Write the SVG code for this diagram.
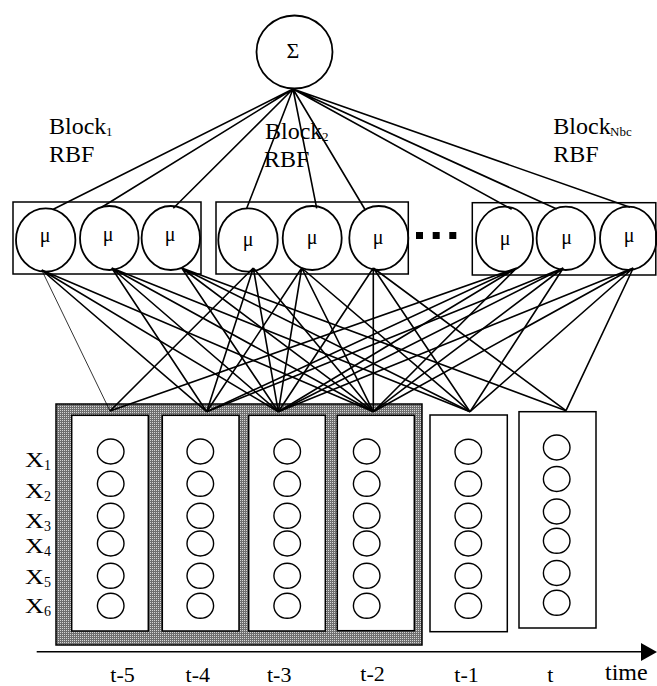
<svg xmlns="http://www.w3.org/2000/svg" width="657" height="686" viewBox="0 0 657 686">
  <defs>
    <pattern id="dots" width="2" height="2" patternUnits="userSpaceOnUse">
      <rect width="2" height="2" fill="#6f6f6f"/>
      <rect width="1" height="1" fill="#d6d6d6"/>
    </pattern>
  </defs>
  <style>
    text { font-family: "Liberation Serif", "Times New Roman", serif; fill: #000; }
    .box { fill: #fff; stroke: #000; stroke-width: 1.5; }
    .neuron { fill: none; stroke: #000; stroke-width: 1.8; }
    .inp { fill: none; stroke: #000; stroke-width: 1.4; }
    .wire { fill: none; stroke: #000; stroke-width: 1.6; }
    .thin { fill: none; stroke: #000; stroke-width: 0.8; }
    .mu { font-size: 20px; text-anchor: middle; }
    .lbl { font-size: 24px; }
    .sub { font-size: 13px; }
    .tl { font-size: 22px; text-anchor: middle; }
  </style>

  <!-- summation node -->
  <g id="sum">
    <ellipse cx="294.5" cy="52" rx="38" ry="36.5" class="neuron"/>
    <text x="293" y="58" font-size="22" text-anchor="middle">Σ</text>
  </g>

  <!-- input window: shaded group of past steps -->
  <g id="window">
    <rect x="56" y="404" width="366" height="241" fill="url(#dots)" stroke="#000" stroke-width="1.5"/>
  </g>

  <!-- connectors -->
  <g id="connectors">
    <!-- sum to RBF units -->
    <path class="wire" d="M293 89 L53.3 209.3 M293 89 L101.7 207.3 M293 89 L173.3 208.3 M293 89 L246.7 208.3 M293 89 L316.7 208.3 M293 89 L365 209.5 M293 89 L511.7 209.3 M293 89 L556.7 209 M293 89 L630 207.3"/>
    <!-- RBF units to time steps -->
    <path class="thin" d="M41.7 270 L110 411"/>
    <path class="wire" d="M41.7 270 L206.7 411.7 M41.7 270 L278.3 411.7 M41.7 270 L373.3 411.7"/>
    <path class="wire" d="M111.7 268 L206.7 411.7 M111.7 268 L278.3 411.7 M111.7 268 L373.3 411.7 M111.7 268 L470 411.7"/>
    <path class="wire" d="M181.7 268 L278.3 411.7 M181.7 268 L373.3 411.7 M181.7 268 L470 411.7 M181.7 268 L566 410.7"/>
    <path class="wire" d="M253.3 268 L110 411 M253.3 268 L206.7 411.7 M253.3 268 L278.3 411.7 M253.3 268 L373.3 411.7"/>
    <path class="wire" d="M301.7 268 L206.7 411.7 M301.7 268 L278.3 411.7 M301.7 268 L373.3 411.7 M301.7 268 L470 411.7"/>
    <path class="wire" d="M373.3 268 L278.3 411.7 M373.3 268 L373.3 411.7 M373.3 268 L470 411.7 M373.3 268 L566 410.7"/>
    <path class="wire" d="M516.7 268 L110 411 M516.7 268 L206.7 411.7 M516.7 268 L278.3 411.7 M516.7 268 L373.3 411.7"/>
    <path class="wire" d="M563.3 268 L206.7 411.7 M563.3 268 L278.3 411.7 M563.3 268 L373.3 411.7 M563.3 268 L470 411.7"/>
    <path class="wire" d="M633.3 268 L278.3 411.7 M633.3 268 L373.3 411.7 M633.3 268 L470 411.7 M633.3 268 L566 410.7"/>
  </g>

  <!-- RBF block 1 -->
  <g id="block1">
    <text x="49" y="134" class="lbl">Block</text>
    <text x="106" y="135.5" class="sub">1</text>
    <text x="49" y="161.7" class="lbl">RBF</text>
    <rect x="13" y="202" width="188" height="72" fill="none" stroke="#000" stroke-width="1.5"/>
    <ellipse cx="45.7" cy="240" rx="29.7" ry="31.7" class="neuron"/>
    <ellipse cx="109.3" cy="238" rx="29.3" ry="32" class="neuron"/>
    <ellipse cx="170.8" cy="238" rx="29.2" ry="32" class="neuron"/>
    <text x="45" y="242" class="mu">μ</text>
    <text x="108" y="240.5" class="mu">μ</text>
    <text x="170" y="240.5" class="mu">μ</text>
  </g>

  <!-- RBF block 2 -->
  <g id="block2">
    <text x="265" y="139.3" class="lbl">Block</text>
    <text x="322" y="141" class="sub">2</text>
    <text x="264" y="166.7" class="lbl">RBF</text>
    <rect x="216" y="202" width="192.3" height="72" fill="none" stroke="#000" stroke-width="1.5"/>
    <ellipse cx="248" cy="240" rx="29.7" ry="31.7" class="neuron"/>
    <ellipse cx="312.2" cy="238" rx="29.5" ry="32" class="neuron"/>
    <ellipse cx="378.8" cy="238" rx="29.5" ry="32" class="neuron"/>
    <text x="248" y="245.5" class="mu">μ</text>
    <text x="312" y="244" class="mu">μ</text>
    <text x="378" y="244" class="mu">μ</text>
  </g>

  <!-- ellipsis between blocks -->
  <g id="ellipsis">
    <rect x="416" y="232" width="7" height="7"/>
    <rect x="432.7" y="232" width="7" height="7"/>
    <rect x="449.3" y="232" width="7" height="7"/>
  </g>

  <!-- RBF block Nbc -->
  <g id="blockN">
    <text x="553.3" y="134.3" class="lbl">Block</text>
    <text x="610" y="135.5" class="sub">Nbc</text>
    <text x="553.3" y="161.7" class="lbl">RBF</text>
    <rect x="472.3" y="202.7" width="183.5" height="72.3" fill="none" stroke="#000" stroke-width="1.5"/>
    <ellipse cx="504.5" cy="239.2" rx="28.5" ry="32.5" class="neuron"/>
    <ellipse cx="565.8" cy="238.3" rx="29.2" ry="31.7" class="neuron"/>
    <ellipse cx="628.3" cy="238.3" rx="28.3" ry="31.7" class="neuron"/>
    <text x="505" y="245" class="mu">μ</text>
    <text x="566.5" y="244" class="mu">μ</text>
    <text x="629" y="242" class="mu">μ</text>
  </g>

  <!-- variable labels -->
  <g id="vars">
    <text x="25" y="466.7" font-size="20" textLength="19" lengthAdjust="spacingAndGlyphs">X</text>
    <text x="44" y="469.5" font-size="14">1</text>
    <text x="25" y="498.3" font-size="20" textLength="19" lengthAdjust="spacingAndGlyphs">X</text>
    <text x="44" y="501" font-size="14">2</text>
    <text x="25" y="527.7" font-size="20" textLength="19" lengthAdjust="spacingAndGlyphs">X</text>
    <text x="44" y="530.5" font-size="14">3</text>
    <text x="25" y="553.3" font-size="20" textLength="19" lengthAdjust="spacingAndGlyphs">X</text>
    <text x="44" y="556" font-size="14">4</text>
    <text x="25" y="584.3" font-size="20" textLength="19" lengthAdjust="spacingAndGlyphs">X</text>
    <text x="44" y="587" font-size="14">5</text>
    <text x="25" y="613.3" font-size="20" textLength="19" lengthAdjust="spacingAndGlyphs">X</text>
    <text x="44" y="616" font-size="14">6</text>
  </g>

  <!-- input columns, one per time step -->
  <g id="col-t5">
    <rect x="71.7" y="415.3" width="76.6" height="215.7" class="box"/>
    <ellipse cx="110.7" cy="451.5" rx="13.3" ry="12.5" class="inp"/>
    <ellipse cx="110.7" cy="483.8" rx="13.3" ry="12.5" class="inp"/>
    <ellipse cx="110.7" cy="515.8" rx="13.3" ry="12.5" class="inp"/>
    <ellipse cx="110.7" cy="543.5" rx="13.3" ry="12.5" class="inp"/>
    <ellipse cx="110.7" cy="575.8" rx="13.3" ry="12.5" class="inp"/>
    <ellipse cx="110.7" cy="605.8" rx="13.3" ry="12.5" class="inp"/>
  </g>
  <g id="col-t4">
    <rect x="162.3" y="415.3" width="76.7" height="215.7" class="box"/>
    <ellipse cx="200.3" cy="451.5" rx="13.3" ry="12.5" class="inp"/>
    <ellipse cx="200.3" cy="483.8" rx="13.3" ry="12.5" class="inp"/>
    <ellipse cx="200.3" cy="515.8" rx="13.3" ry="12.5" class="inp"/>
    <ellipse cx="200.3" cy="543.5" rx="13.3" ry="12.5" class="inp"/>
    <ellipse cx="200.3" cy="575.8" rx="13.3" ry="12.5" class="inp"/>
    <ellipse cx="200.3" cy="605.8" rx="13.3" ry="12.5" class="inp"/>
  </g>
  <g id="col-t3">
    <rect x="248.7" y="415.3" width="76.6" height="215.7" class="box"/>
    <ellipse cx="287.2" cy="451.5" rx="13.3" ry="12.5" class="inp"/>
    <ellipse cx="287.2" cy="483.8" rx="13.3" ry="12.5" class="inp"/>
    <ellipse cx="287.2" cy="515.8" rx="13.3" ry="12.5" class="inp"/>
    <ellipse cx="287.2" cy="543.5" rx="13.3" ry="12.5" class="inp"/>
    <ellipse cx="287.2" cy="575.8" rx="13.3" ry="12.5" class="inp"/>
    <ellipse cx="287.2" cy="605.8" rx="13.3" ry="12.5" class="inp"/>
  </g>
  <g id="col-t2">
    <rect x="337.3" y="415.3" width="77" height="215.4" class="box"/>
    <ellipse cx="366.7" cy="451.5" rx="13.3" ry="12.5" class="inp"/>
    <ellipse cx="366.7" cy="483.8" rx="13.3" ry="12.5" class="inp"/>
    <ellipse cx="366.7" cy="515.8" rx="13.3" ry="12.5" class="inp"/>
    <ellipse cx="366.7" cy="543.5" rx="13.3" ry="12.5" class="inp"/>
    <ellipse cx="366.7" cy="575.8" rx="13.3" ry="12.5" class="inp"/>
    <ellipse cx="366.7" cy="605.8" rx="13.3" ry="12.5" class="inp"/>
  </g>
  <g id="col-t1">
    <rect x="430" y="415" width="77.3" height="216.7" class="box"/>
    <ellipse cx="468.3" cy="451.7" rx="13.3" ry="12.5" class="inp"/>
    <ellipse cx="468.3" cy="483.8" rx="13.3" ry="12.5" class="inp"/>
    <ellipse cx="468.3" cy="515.8" rx="13.3" ry="12.5" class="inp"/>
    <ellipse cx="468.3" cy="543.5" rx="13.3" ry="12.5" class="inp"/>
    <ellipse cx="468.3" cy="575.8" rx="13.3" ry="12.5" class="inp"/>
    <ellipse cx="468.3" cy="605.8" rx="13.3" ry="12.5" class="inp"/>
  </g>
  <g id="col-t0">
    <rect x="519" y="411.7" width="77" height="216.3" class="box"/>
    <ellipse cx="556.7" cy="447.5" rx="13.3" ry="12.5" class="inp"/>
    <ellipse cx="556.7" cy="479" rx="13.3" ry="12.5" class="inp"/>
    <ellipse cx="556.7" cy="511.5" rx="13.3" ry="12.5" class="inp"/>
    <ellipse cx="556.7" cy="540.8" rx="13.3" ry="12.5" class="inp"/>
    <ellipse cx="556.7" cy="573" rx="13.3" ry="12.5" class="inp"/>
    <ellipse cx="556.7" cy="602.8" rx="13.3" ry="12.5" class="inp"/>
  </g>

  <!-- time axis -->
  <g id="axis">
    <line x1="36.7" y1="651.7" x2="642" y2="651.7" stroke="#000" stroke-width="1.5"/>
    <polygon points="641,643 657,652 641,661" fill="#000"/>
    <text x="122.5" y="681.5" class="tl">t-5</text>
    <text x="197.8" y="681.5" class="tl">t-4</text>
    <text x="279.2" y="681.5" class="tl">t-3</text>
    <text x="372.5" y="681" class="tl">t-2</text>
    <text x="466.5" y="681.5" class="tl">t-1</text>
    <text x="550.3" y="681.5" class="tl">t</text>
    <text x="605" y="680" font-size="24">time</text>
  </g>
</svg>
